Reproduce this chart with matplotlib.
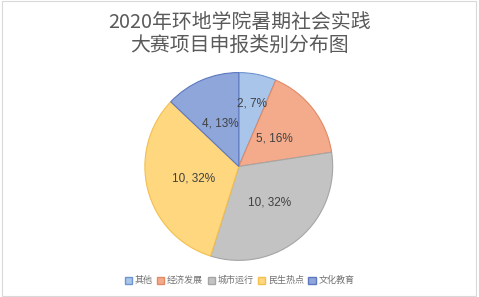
import numpy as np
import matplotlib.pyplot as plt
from matplotlib.patches import Patch, Rectangle

plt.rcParams['font.family'] = ['Noto Sans CJK SC', 'DejaVu Sans']

# data
categories = ['其他', '经济发展', '城市运行', '民生热点', '文化教育']
counts = [2, 5, 10, 10, 4]
percents = ['7%', '16%', '32%', '32%', '13%']

colors = ['#a9c5ea', '#f3ab8c', '#c3c3c3', '#fed77f', '#8fa6da']
edges = ['#6f95cf', '#e08a66', '#a5a5a5', '#f2c04e', '#5d78c0']
label_r = [0.68, 0.48, 0.5, 0.5, 0.5]

fig = plt.figure(figsize=(4.79, 2.97), dpi=100)
ax = fig.add_axes([0.2985, 0.117, 0.4, 0.645])

wedges, _ = ax.pie(counts, colors=colors, startangle=90, counterclock=False,
                   wedgeprops=dict(linewidth=0.8))
for w, ec in zip(wedges, edges):
    w.set_edgecolor(ec)

# labels "n, p%" inside each slice
for w, n, p, r in zip(wedges, counts, percents, label_r):
    ang = np.deg2rad((w.theta1 + w.theta2) / 2)
    ax.text(r * np.cos(ang), r * np.sin(ang), '%d, %s' % (n, p),
            ha='center', va='center', fontsize=8.5, color='#404040',
            family='Liberation Sans')
ax.set_xlim(-1.02, 1.02)
ax.set_ylim(-1.02, 1.02)

fig.text(0.5, 0.885, '2020年环地学院暑期社会实践\n大赛项目申报类别分布图',
         ha='center', va='center', fontsize=14.3, color='#5a5a5a',
         linespacing=1.1)

handles = [Patch(facecolor=c, edgecolor=e) for c, e in zip(colors, edges)]
fig.legend(handles, categories, loc='center', bbox_to_anchor=(0.5, 0.055),
           ncol=5, frameon=False, fontsize=6.5, handlelength=0.8,
           handleheight=0.8, handletextpad=0.3, columnspacing=0.5,
           labelcolor='#707070')

# faint frame round the chart area
fig.patches.append(Rectangle((0.004, 0.005), 0.99, 0.99, transform=fig.transFigure,
                             fill=False, edgecolor='#d9d9d9', linewidth=0.8))

fig.savefig('out.png', dpi=100)
